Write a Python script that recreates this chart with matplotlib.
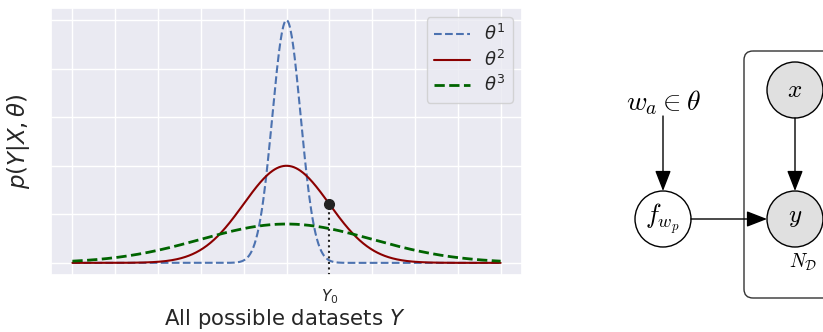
import numpy as np
import matplotlib
matplotlib.use("Agg")
import matplotlib.pyplot as plt
import seaborn as sns
from matplotlib.patches import Circle, FancyBboxPatch, FancyArrowPatch

sns.set_theme(style="darkgrid")
plt.rcParams['font.family'] = ['DejaVu Sans']

# ---- data ----
series_labels = [r'$\theta^1$', r'$\theta^2$', r'$\theta^3$']
series_means = [0.0, 0.0, 0.0]
series_sigmas = [0.33, 1.0, 2.0]
series_peaks = [1.0, 0.40, 0.16]
series_colors = ['#4c72b0', '#8b0000', '#006400']
series_styles = ['--', '-', '--']
series_widths = [1.5, 1.5, 2.0]
x_range = [-5.0, 5.0]
x_ticks = [-5, -4, -3, -2, -1, 0, 1, 2, 3, 4, 5]
x_ticklabels = ['', '', '', '', '', '', r'$Y_0$', '', '', '', '']
y_ticks = [0.0, 0.2, 0.4, 0.6, 0.8, 1.0]
y0_value = 1.0

W, H = 823, 332
fig = plt.figure(figsize=(W / 100, H / 100), dpi=100)
ax = fig.add_axes([51 / W, (H - 275) / H, 471 / W, 267 / H])

x = np.linspace(x_range[0], x_range[1], 600)
for lab, m, s, p, c, ls, lw in zip(series_labels, series_means, series_sigmas,
                                   series_peaks, series_colors, series_styles,
                                   series_widths):
    y = p * np.exp(-0.5 * ((x - m) / s) ** 2)
    ax.plot(x, y, ls, color=c, lw=lw, label=lab)

red_y0 = series_peaks[1] * np.exp(-0.5 * ((y0_value - series_means[1]) / series_sigmas[1]) ** 2)
ax.set_ylim(-0.05, 1.05)
ax.plot([y0_value, y0_value], [-0.05, red_y0], ':', color='#222222', lw=1.5)
ax.plot([y0_value], [red_y0], 'o', color='#222222', ms=7, zorder=5)

ax.set_xticks(x_ticks)
ax.set_xticklabels(x_ticklabels, fontsize=11)
ax.tick_params(axis='x', pad=3)
ax.set_yticks(y_ticks)
ax.set_yticklabels([''] * len(y_ticks))
fig.text(285 / W, 1 - 319 / H, 'All possible datasets $Y$', fontsize=15.3,
         ha='center', va='center')
fig.text(19 / W, 1 - 141 / H, r'$p(Y|X,\theta)$', fontsize=16.5, rotation=90,
         ha='center', va='center')
ax.legend(loc='upper right', fontsize=13, handlelength=2.0, labelspacing=0.3,
          borderpad=0.4, handletextpad=0.8)

# ---- graphical model diagram ----
d = fig.add_axes([0, 0, 1, 1])
d.set_xlim(0, W)
d.set_ylim(H, 0)
d.axis('off')
d.patch.set_alpha(0)

plate = FancyBboxPatch((744, 51), 120, 247, boxstyle='round,pad=0,rounding_size=9',
                       fc='none', ec='#333333', lw=1.0)
d.add_patch(plate)

r = 28
nodes = {'f': (663, 219, 'white'), 'x': (795, 90, '#e0e0e0'), 'y': (795, 219, '#e0e0e0')}
for k, (cx, cy, fc) in nodes.items():
    d.add_patch(Circle((cx, cy), r, fc=fc, ec='black', lw=1.0))

tk = dict(math_fontfamily='cm', ha='center', va='center', color='black')
d.text(663, 103, r'$w_a \in \theta$', fontsize=20, **tk)
d.text(662, 219, r'$f_{w_p}$', fontsize=19, **tk)
d.text(795, 90, r'$x$', fontsize=18, **tk)
d.text(795, 217, r'$y$', fontsize=18, **tk)
d.text(803, 262, r'$N_{\mathcal{D}}$', fontsize=14, **tk)

arr = dict(arrowstyle='-|>,head_length=0.9,head_width=0.35', color='black', lw=1.0,
           shrinkA=0, shrinkB=0, mutation_scale=14)
d.add_patch(FancyArrowPatch((663, 116), (663, 191), **arr))
d.add_patch(FancyArrowPatch((691, 219), (767, 219), **arr))
d.add_patch(FancyArrowPatch((795, 118), (795, 191), **arr))

fig.savefig('out.png', dpi=100)
